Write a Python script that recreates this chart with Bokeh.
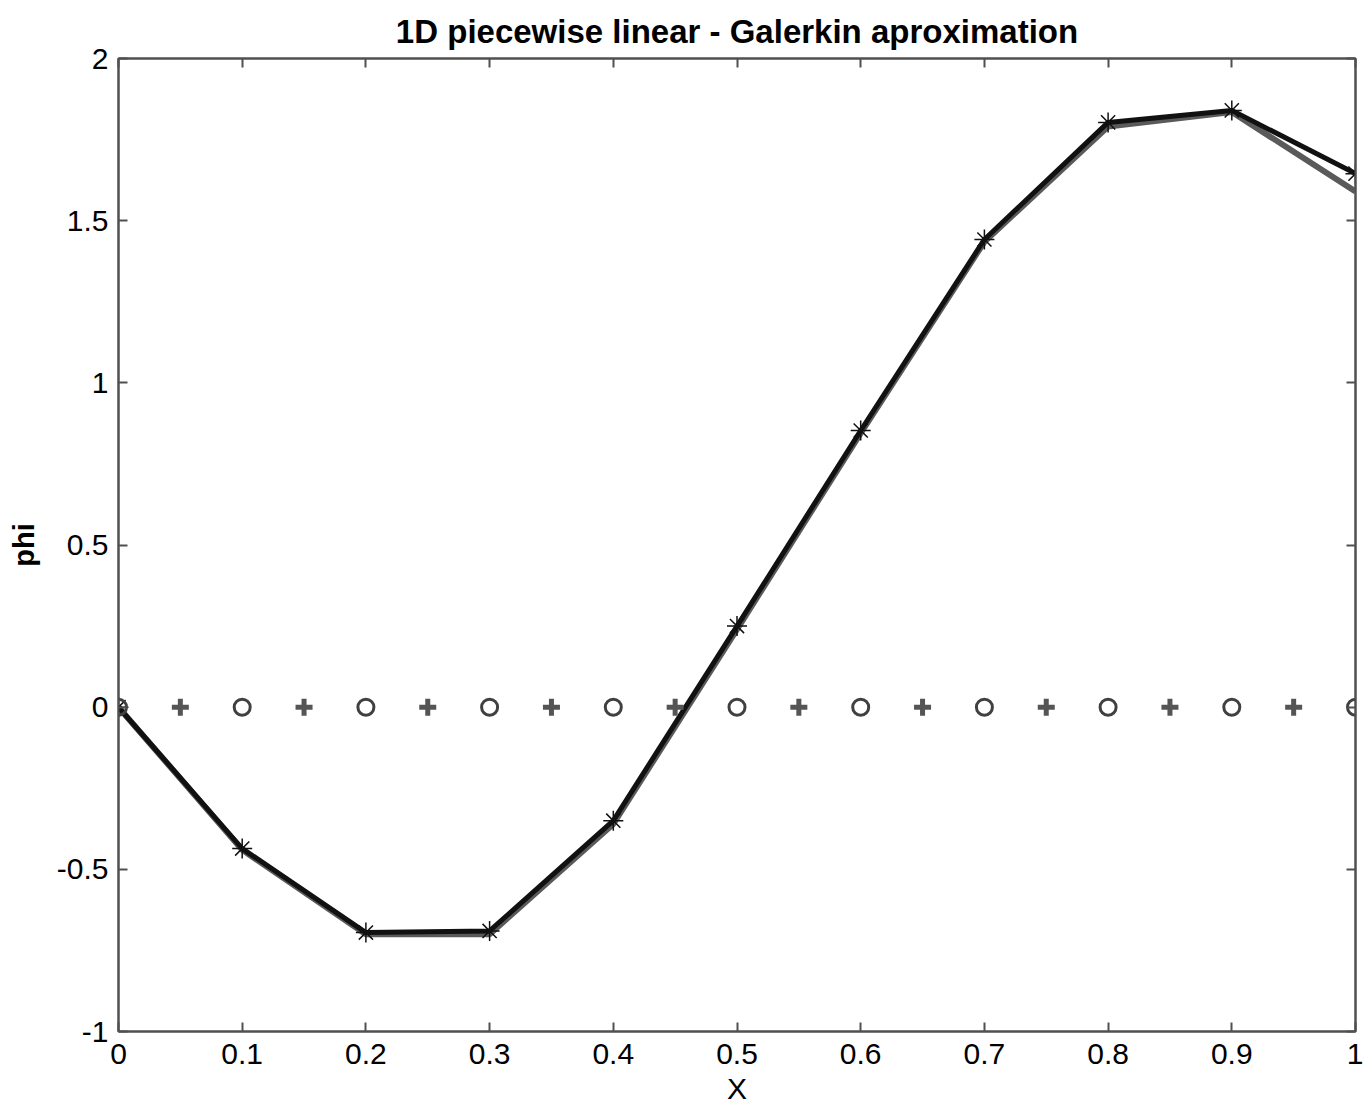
from bokeh.plotting import figure
from bokeh.models import LinearAxis, FixedTicker, Range1d
from bokeh.embed import file_html
from bokeh.resources import INLINE

# ---- data ----
x_nodes = [0.0, 0.1, 0.2, 0.3, 0.4, 0.5, 0.6, 0.7, 0.8, 0.9, 1.0]
phi_galerkin = [0.0, -0.436, -0.695, -0.69, -0.35, 0.25, 0.853, 1.442, 1.803, 1.84, 1.645]
phi_exact = [0.0, -0.44, -0.70, -0.70, -0.36, 0.24, 0.845, 1.435, 1.79, 1.835, 1.59]
x_mid = [0.05, 0.15, 0.25, 0.35, 0.45, 0.55, 0.65, 0.75, 0.85, 0.95]
zero_nodes = [0.0] * len(x_nodes)
zero_mid = [0.0] * len(x_mid)

x_ticks = [0, 0.1, 0.2, 0.3, 0.4, 0.5, 0.6, 0.7, 0.8, 0.9, 1]
x_tick_labels = ["0", "0.1", "0.2", "0.3", "0.4", "0.5", "0.6", "0.7", "0.8", "0.9", "1"]
y_ticks = [-1, -0.5, 0, 0.5, 1, 1.5, 2]
y_tick_labels = ["-1", "-0.5", "0", "0.5", "1", "1.5", "2"]
title_text = "1D piecewise linear - Galerkin aproximation"

FONT = "Liberation Sans"
AX = "#505050"

p = figure(width=1363, height=1107, output_backend="svg", toolbar_location=None,
           x_range=Range1d(x_ticks[0], x_ticks[-1]), y_range=Range1d(y_ticks[0], y_ticks[-1]),
           x_axis_location=None, y_axis_location=None,
           min_border_left=118, min_border_right=8, min_border_top=58, min_border_bottom=76,
           title=title_text)
p.title.text_font = FONT
p.title.text_font_size = "33px"
p.title.text_font_style = "bold"
p.title.align = "center"
p.title.offset = -7
p.title.text_color = "black"
p.title.standoff = 18
p.grid.visible = False
p.outline_line_color = AX
p.outline_line_width = 2
p.background_fill_color = "white"
p.border_fill_color = "white"


def style_axis(ax, ticks, labels):
    ax.ticker = FixedTicker(ticks=ticks)
    ax.major_tick_in = 9
    ax.major_tick_out = 0
    ax.minor_tick_in = 0
    ax.minor_tick_out = 0
    ax.axis_line_color = AX
    ax.axis_line_width = 2
    ax.major_tick_line_color = AX
    ax.major_tick_line_width = 2
    ax.major_label_text_font = FONT
    ax.major_label_text_color = "black"
    ax.major_label_text_font_size = "30px"
    ax.major_label_overrides = dict(zip(ticks, labels))


xb = LinearAxis(axis_label="X")
xt = LinearAxis()
yl = LinearAxis(axis_label="phi")
yr = LinearAxis()
style_axis(xb, x_ticks, x_tick_labels)
style_axis(yl, y_ticks, y_tick_labels)
style_axis(xt, x_ticks, [""] * len(x_ticks))
style_axis(yr, y_ticks, [""] * len(y_ticks))
xt.major_label_standoff = 0
yr.major_label_standoff = 0

xb.major_label_standoff = 12
yl.major_label_standoff = 10
xb.axis_label_text_font = FONT
xb.axis_label_text_font_size = "30px"
xb.axis_label_text_font_style = "normal"
xb.axis_label_text_color = "black"
xb.axis_label_standoff = 5
yl.axis_label_text_font = FONT
yl.axis_label_text_font_size = "29px"
yl.axis_label_text_font_style = "bold"
yl.axis_label_text_color = "black"
yl.axis_label_standoff = 14

p.add_layout(xb, "below")
p.add_layout(xt, "above")
p.add_layout(yl, "left")
p.add_layout(yr, "right")

# exact solution (gray) under the Galerkin approximation (black)
p.line(x_nodes, phi_exact, line_color="#5a5a5a", line_width=6)
p.line(x_nodes, phi_galerkin, line_color="#111111", line_width=5)
p.scatter(x_nodes, phi_galerkin, marker="asterisk", size=20, line_color="#111111", line_width=1.5)

# node markers on phi = 0
p.scatter(x_nodes, zero_nodes, marker="circle", size=16, fill_color=None,
          line_color="#404040", line_width=3)
p.scatter(x_mid, zero_mid, marker="cross", size=17, line_color="#555555", line_width=5)

open("out.html", "w").write(file_html(p, INLINE))
